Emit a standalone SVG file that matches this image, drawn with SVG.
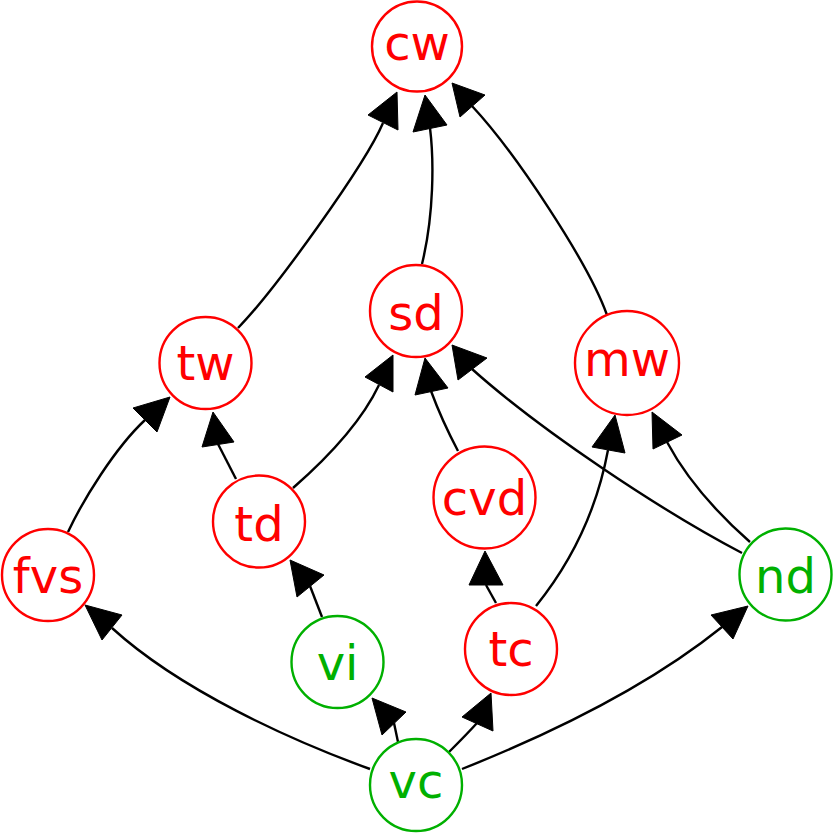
<svg xmlns="http://www.w3.org/2000/svg" width="833" height="833" viewBox="0 0 833 833">
<style>
.n circle{fill:#fff;stroke-width:2.4}
.r circle{stroke:#ff0000}
.g circle{stroke:#00b000}
.n text{font-family:"DejaVu Sans",sans-serif;font-size:48px;text-anchor:middle}
.r text{fill:#ff0000}
.g text{fill:#00b000}
#edges path{fill:none;stroke:#000;stroke-width:2.4}
#edges polygon{fill:#000;stroke:#000;stroke-width:1}
</style>
<rect width="833" height="833" fill="#fff"/>
<g id="edges">
<path d="M238 328 C275 290 365 165 383 123"/><polygon points="397,92 368,115 398,130"/>
<path d="M422 264 C434 215 434 160 430 128"/><polygon points="425,95 413,132 447,125"/>
<path d="M607 315 C588 262 515 152 472 106"/><polygon points="452,83 460,117 485,95"/>
<path d="M68 532 C83 500 115 448 145 420"/><polygon points="170,397 133,408 157,432"/>
<path d="M236 479 L218 444"/><polygon points="213,412 202,447 234,442"/>
<path d="M293 488 C325 460 360 425 379 385"/><polygon points="393,355 365,377 393,392"/>
<path d="M458 451 C448 432 438 410 431 391"/><polygon points="425,358 415,395 448,388"/>
<path d="M742 553 C660 510 540 430 472 369"/><polygon points="452,345 458,380 487,358"/>
<path d="M536 606 C565 570 595 520 608 450"/><polygon points="615,415 592,447 625,453"/>
<path d="M750 542 C725 520 690 485 667 442"/><polygon points="652,412 653,449 682,435"/>
<path d="M322 617 L310 586"/><polygon points="290,560 297,597 324,575"/>
<path d="M496 603 L486 585"/><polygon points="485,551 469,585 503,585"/>
<path d="M370 769 C290 740 180 690 112 628"/><polygon points="85,605 122,615 102,640"/>
<path d="M398 742 L394 723"/><polygon points="372,698 382,735 406,712"/>
<path d="M449 752 C458 743 468 733 477 723"/><polygon points="491,693 462,717 493,731"/>
<path d="M462 769 C560 730 650 685 722 627"/><polygon points="748,606 711,615 733,639"/>
</g>
<g id="cw" class="n r"><circle cx="417" cy="46.5" r="45"/><text x="417" y="60">cw</text></g>
<g id="sd" class="n r"><circle cx="416" cy="311" r="46"/><text x="416" y="330">sd</text></g>
<g id="tw" class="n r"><circle cx="205.5" cy="363" r="46"/><text x="205.5" y="380">tw</text></g>
<g id="mw" class="n r"><circle cx="627" cy="363" r="52"/><text x="627" y="376">mw</text></g>
<g id="td" class="n r"><circle cx="259" cy="521.5" r="46"/><text x="259" y="541">td</text></g>
<g id="cvd" class="n r"><circle cx="484.5" cy="497.5" r="51"/><text x="484.5" y="515">cvd</text></g>
<g id="fvs" class="n r"><circle cx="48" cy="575" r="46"/><text x="48" y="593">fvs</text></g>
<g id="nd" class="n g"><circle cx="785.5" cy="574.5" r="46"/><text x="785.5" y="593">nd</text></g>
<g id="vi" class="n g"><circle cx="337.5" cy="662" r="46"/><text x="337.5" y="680">vi</text></g>
<g id="tc" class="n r"><circle cx="511" cy="649" r="46"/><text x="511" y="666">tc</text></g>
<g id="vc" class="n g"><circle cx="416" cy="785" r="46"/><text x="416" y="798">vc</text></g>
</svg>
